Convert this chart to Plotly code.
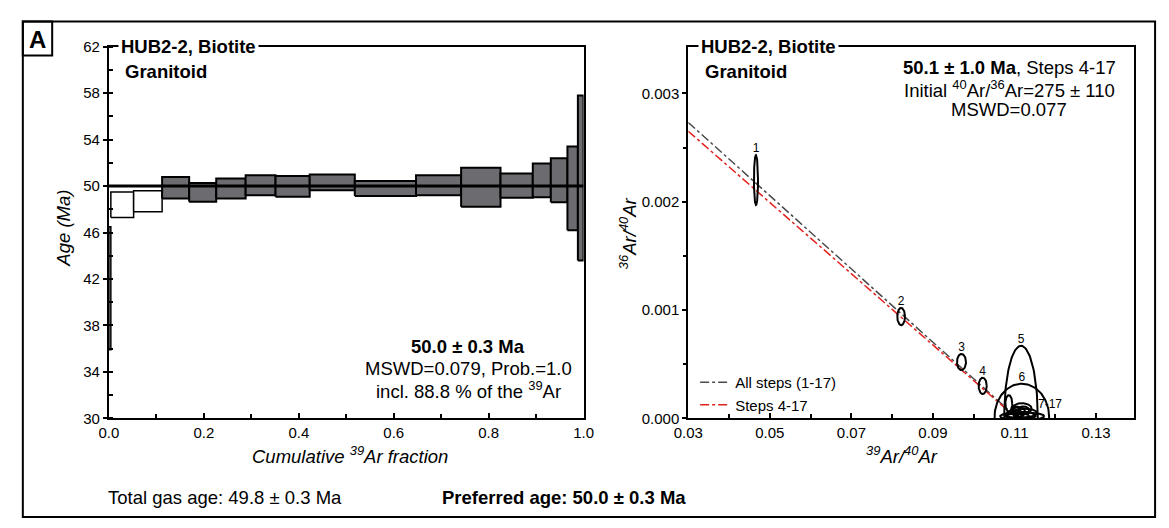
import numpy as np
import plotly.graph_objects as go

# ---------------- Age spectrum data (HUB2-2, biotite) ----------------
step_no = list(range(1, 18))
ar39_fraction = [0.004, 0.048, 0.060, 0.057, 0.057, 0.062, 0.063, 0.072, 0.095,
                 0.129, 0.095, 0.083, 0.068, 0.038, 0.035, 0.022, 0.012]
step_age = [41.2, 48.4, 48.7, 49.86, 49.46, 49.80, 50.08, 49.97, 50.32,
            49.79, 50.08, 49.90, 50.04, 50.50, 50.50, 49.80, 50.70]
step_err = [5.3, 1.1, 0.9, 0.92, 0.80, 0.86, 0.86, 0.89, 0.68,
            0.65, 0.86, 1.68, 1.04, 1.45, 1.90, 3.60, 7.10]
plateau_first, plateau_last = 4, 17
plateau_age = 50.0

spec_x_ticks = [0.0, 0.2, 0.4, 0.6, 0.8, 1.0]
spec_y_ticks = [30, 34, 38, 42, 46, 50, 54, 58, 62]

# ---------------- Inverse isochron data ----------------
ell_label = ["1", "2", "3", "4", "5", "6", "7", "8", "9", "10", "11", "12", "13", "14", "15", "16", "17"]
ell_x = [0.0466, 0.0822, 0.0970, 0.1022, 0.1116, 0.1118, 0.1086, 0.1118, 0.1119,
         0.1100, 0.1110, 0.1125, 0.1113, 0.1130, 0.1105, 0.1122, 0.1108]
ell_y = [0.00220, 0.00094, 0.00052, 0.00030, 0.00002, 0.00001, 0.000138, 0.000090, 0.000020,
         0.000040, 0.000060, 0.000050, 0.000030, 0.000025, 0.000070, 0.000075, 0.000020]
ell_rx = [0.00050, 0.00095, 0.00110, 0.00100, 0.00410, 0.00670, 0.00084, 0.00240, 0.00540,
          0.00200, 0.00160, 0.00300, 0.00380, 0.00220, 0.00100, 0.00140, 0.00280]
ell_ry = [0.00023, 0.00008, 0.000075, 0.000075, 0.00065, 0.00031, 0.000076, 0.000050, 0.000036,
          0.000035, 0.000045, 0.000040, 0.000030, 0.000030, 0.000040, 0.000035, 0.000028]
labelled_ellipses = 6          # ellipses 1-6 carry their own number
group_label = "7-17"

line_names = ["All steps (1-17)", "Steps 4-17"]
line_initial_4036 = [267.0, 275.0]
line_x_intercept = [0.1108, 0.1106]
line_colors = ["#4a4a4a", "#e3211c"]

iso_x_ticks = [0.03, 0.05, 0.07, 0.09, 0.11, 0.13]
iso_y_ticks = [0.000, 0.001, 0.002, 0.003]

# ---------------- layout helpers ----------------
W, H = 1169, 528
FONT = "Liberation Sans Narrow, Arial Narrow, Liberation Sans, Arial, sans-serif"
TXT = 18.5
TICK = 15


def px(x):
    return x / W


def py(y):
    return 1 - y / H


fig = go.Figure()

# --- age spectrum boxes ---
cum = np.concatenate([[0.0], np.cumsum(ar39_fraction)])
for i, n in enumerate(step_no):
    x0, x1 = cum[i], cum[i + 1]
    lo, hi = step_age[i] - step_err[i], step_age[i] + step_err[i]
    in_plateau = plateau_first <= n <= plateau_last
    fig.add_trace(go.Scatter(
        x=[x0, x1, x1, x0, x0], y=[lo, lo, hi, hi, lo],
        mode="lines", fill="toself",
        fillcolor="#6b6b70" if in_plateau else "white",
        line=dict(color="black", width=2 if in_plateau else 1.5),
        xaxis="x", yaxis="y", showlegend=False, hoverinfo="skip"))

fig.add_trace(go.Scatter(x=[cum[0], cum[-1]], y=[plateau_age, plateau_age], mode="lines",
                         line=dict(color="black", width=3), xaxis="x", yaxis="y",
                         showlegend=False, hoverinfo="skip"))

# --- isochron lines ---
for name, r, xi, col in zip(line_names, line_initial_4036, line_x_intercept, line_colors):
    y0 = 1.0 / r
    xs = np.array([iso_x_ticks[0], xi])
    ys = y0 * (1 - xs / xi)
    fig.add_trace(go.Scatter(x=xs, y=ys, mode="lines", name=name,
                             line=dict(color=col, width=1.5, dash="dashdot"),
                             xaxis="x2", yaxis="y2", showlegend=True, hoverinfo="skip"))

# --- ellipses ---
t = np.linspace(0, 2 * np.pi, 140)
ex, ey = [], []
for cx, cy, rx, ry in zip(ell_x, ell_y, ell_rx, ell_ry):
    ex += list(cx + rx * np.cos(t)) + [None]
    ey += list(cy + ry * np.sin(t)) + [None]
fig.add_trace(go.Scatter(x=ex, y=ey, mode="lines", line=dict(color="black", width=2),
                         xaxis="x2", yaxis="y2", showlegend=False, hoverinfo="skip"))

# --- ellipse number labels ---
lab_x = ell_x[:labelled_ellipses]
lab_y = [cy + ry for cy, ry in zip(ell_y[:labelled_ellipses], ell_ry[:labelled_ellipses])]
fig.add_trace(go.Scatter(x=lab_x, y=lab_y, mode="text", text=ell_label[:labelled_ellipses],
                         textposition="top center", textfont=dict(family=FONT, size=12, color="black"),
                         xaxis="x2", yaxis="y2", showlegend=False, hoverinfo="skip"))

axis_common = dict(showline=True, linecolor="black", linewidth=2, mirror=True,
                   showgrid=False, zeroline=False, tickcolor="black", tickwidth=1.5,
                   tickfont=dict(family=FONT, size=TICK, color="black"))

fig.update_layout(
    width=W, height=H, margin=dict(l=0, r=0, t=0, b=0),
    paper_bgcolor="white", plot_bgcolor="white", hovermode=False,
    font=dict(family=FONT, color="black"),
    xaxis=dict(domain=[px(96), px(581)], anchor="y", range=[0, 1],
               tickvals=spec_x_ticks, ticktext=[f"{v:.1f}" for v in spec_x_ticks],
               ticks="inside", ticklen=5,
               minor=dict(dtick=0.1, tick0=0, ticks="inside", ticklen=4, tickcolor="black"),
               **axis_common),
    yaxis=dict(domain=[py(423), py(39)], anchor="x", range=[30, 62],
               tickvals=spec_y_ticks, ticks="outside", ticklen=4,
               minor=dict(dtick=2, tick0=30, ticks="inside", ticklen=4, tickcolor="black"),
               **axis_common),
    xaxis2=dict(domain=[px(688), px(1143)], anchor="y2", range=[0.03, 0.1392],
                tickvals=iso_x_ticks, ticktext=[f"{v:.2f}" for v in iso_x_ticks],
                ticks="inside", ticklen=5,
                minor=dict(dtick=0.01, tick0=0.03, ticks="inside", ticklen=4, tickcolor="black"),
                **axis_common),
    yaxis2=dict(domain=[py(423), py(39)], anchor="x2", range=[0, 0.00343],
                tickvals=iso_y_ticks, ticktext=[f"{v:.3f}" for v in iso_y_ticks],
                ticks="outside", ticklen=4,
                minor=dict(dtick=0.0005, tick0=0, ticks="outside", ticklen=3, tickcolor="black"),
                **axis_common),
    legend=dict(x=px(695), y=py(369), xanchor="left", yanchor="top",
                bgcolor="rgba(0,0,0,0)", font=dict(family=FONT, size=TICK, color="black"),
                itemwidth=30, tracegroupgap=0),
)

ann = []


def add_text(text, x, y, size=TXT, xanchor="center", yanchor="middle", **kw):
    ann.append(dict(text=text, x=px(x), y=py(y), xref="paper", yref="paper",
                    xanchor=xanchor, yanchor=yanchor, showarrow=False,
                    font=dict(family=FONT, size=size, color="black"), **kw))


# panel titles (white background hides the frame line behind them)
add_text("<b>HUB2-2, Biotite</b>", 105, 39, xanchor="left", bgcolor="white", borderpad=2)
add_text("<b>Granitoid</b>", 110, 65, xanchor="left")
add_text("<b>HUB2-2, Biotite</b>", 698, 39, xanchor="left", bgcolor="white", borderpad=2)
add_text("<b>Granitoid</b>", 703, 65, xanchor="left")

# plateau result
add_text(f"<b>{plateau_age:.1f} ± 0.3 Ma</b>", 463, 349)
add_text("MSWD=0.079, Prob.=1.0", 463, 371)
add_text("incl. 88.8 % of the <sup>39</sup>Ar", 463, 394)

# isochron result
add_text("<b>50.1 ± 1.0 Ma</b>, Steps 4-17", 1016, 60)
add_text("Initial <sup>40</sup>Ar/<sup>36</sup>Ar=275 ± 110", 1016, 83)
add_text("MSWD=0.077", 1016, 104)

# axis titles
add_text("<i>Age (Ma)</i>", 50, 226, textangle=-90)
add_text("<i>Cumulative <sup>39</sup>Ar fraction</i>", 342, 461)
add_text("<i><sup>36</sup>Ar/<sup>40</sup>Ar</i>", 626, 232, textangle=-90)
add_text("<i><sup>39</sup>Ar/<sup>40</sup>Ar</i>", 906, 461)

# bottom line
add_text("Total gas age: 49.8 ± 0.3 Ma", 93, 505, xanchor="left")
add_text("<b>Preferred age: 50.0 ± 0.3 Ma</b>", 434, 505, xanchor="left")

# panel letter
add_text("<b>A</b>", 23, 31, size=24)

# group label for ellipses 7-17
ann.append(dict(text=group_label, x=0.1186, y=0.00013, xref="x2", yref="y2",
                showarrow=False, font=dict(family=FONT, size=12, color="black")))

fig.update_layout(annotations=ann)

fig.update_layout(shapes=[
    dict(type="rect", xref="paper", yref="paper", x0=px(8), x1=px(1165), y0=py(525), y1=py(13),
         line=dict(color="black", width=2)),
    dict(type="rect", xref="paper", yref="paper", x0=px(8), x1=px(38), y0=py(48), y1=py(13),
         line=dict(color="black", width=2)),
])

fig.write_html("out.html")
